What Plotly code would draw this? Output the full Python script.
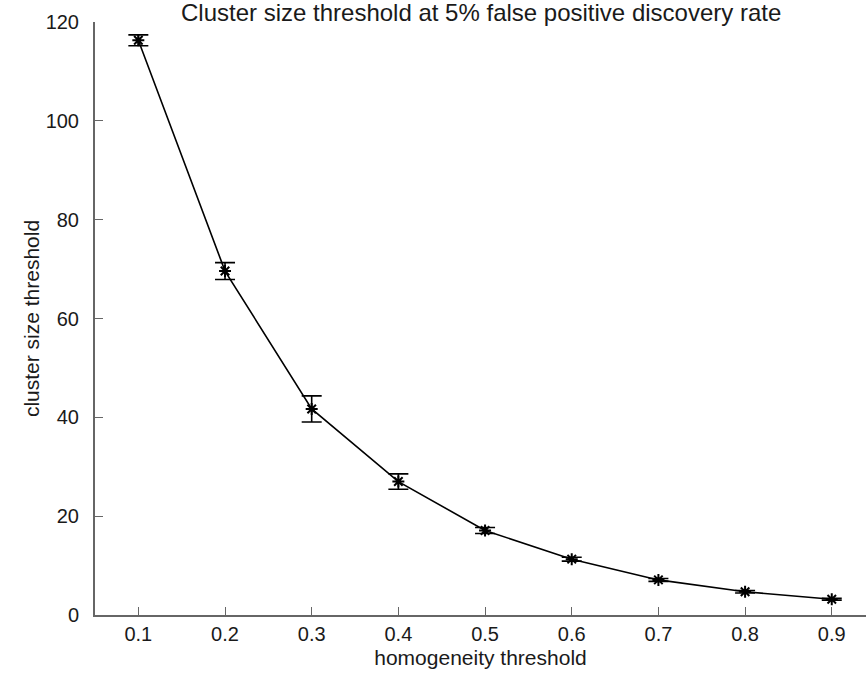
import plotly.graph_objects as go

x_vals = [0.1, 0.2, 0.3, 0.4, 0.5, 0.6, 0.7, 0.8, 0.9]
y_vals = [116.3, 69.6, 41.7, 27.0, 17.1, 11.3, 7.1, 4.7, 3.2]
y_err = [1.1, 1.7, 2.65, 1.55, 0.6, 0.4, 0.3, 0.25, 0.2]
x_ticks = [0.1, 0.2, 0.3, 0.4, 0.5, 0.6, 0.7, 0.8, 0.9]
y_ticks = [0, 20, 40, 60, 80, 100, 120]

W, H = 866, 673
ml, mr, mt, mb = 95, 0, 22, 58

fig = go.Figure()
fig.add_trace(go.Scatter(
    x=x_vals, y=y_vals, mode="lines+markers",
    line=dict(color="black", width=1.6),
    marker=dict(symbol="asterisk-open", size=10, color="black", line=dict(width=2, color="black")),
    error_y=dict(type="data", array=y_err, visible=True, color="black", thickness=1.6, width=10),
    showlegend=False,
))

tick_font = dict(family="Liberation Sans, Arial, sans-serif", size=20, color="#1a1a1a")
label_font = dict(family="Liberation Sans, Arial, sans-serif", size=21, color="#1a1a1a")
title_font = dict(family="Liberation Sans, Arial, sans-serif", size=24, color="#1a1a1a")
fig.update_layout(
    width=W, height=H,
    margin=dict(l=ml, r=mr, t=mt, b=mb),
    paper_bgcolor="white", plot_bgcolor="white",
    font=tick_font,
    xaxis=dict(range=[0.05, 0.9395], tickvals=x_ticks, ticktext=[str(v) for v in x_ticks],
               ticks="inside", ticklen=8, tickcolor="#666", showline=True, linecolor="#666", linewidth=2,
               showgrid=False, zeroline=False, tickfont=tick_font, ticklabelstandoff=0,
               title=dict(text="homogeneity threshold", font=label_font, standoff=6)),
    yaxis=dict(range=[0, 120], tickvals=y_ticks,
               ticks="inside", ticklen=8, tickcolor="#666", showline=True, linecolor="#666", linewidth=2,
               showgrid=False, zeroline=False, tickfont=tick_font, ticklabelstandoff=10,
               title=dict(text="cluster size threshold", font=label_font, standoff=0)),
    annotations=[dict(text="Cluster size threshold at 5% false positive discovery rate",
                      xref="paper", yref="paper", x=(481 - ml) / (W - ml - mr), y=1 + 10 / (H - mt - mb),
                      xanchor="center", yanchor="middle", showarrow=False, font=title_font)],
)

fig.write_html("out.html")
